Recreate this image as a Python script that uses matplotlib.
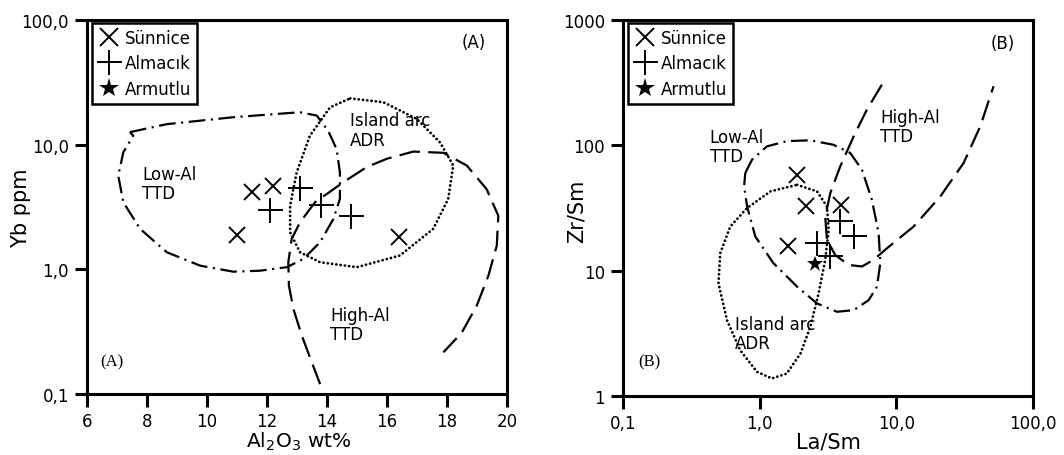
"""plot.py

Yb vs Al2O3 and Zr/Sm vs La/Sm discrimination diagrams with
Low-Al TTD, High-Al TTD and island arc ADR fields.
"""

import matplotlib
matplotlib.use("Agg")
import matplotlib.pyplot as plt
from matplotlib.lines import Line2D

plt.rcParams["font.family"] = ["DejaVu Sans"]
plt.rcParams["lines.scale_dashes"] = False

# ---------------------------------------------------------------------------
# Data
# ---------------------------------------------------------------------------

# Panel A: Al2O3 (wt%) vs Yb (ppm)
A_SUN_X = [11.5, 12.2, 11.0, 16.4]
A_SUN_Y = [4.2, 4.7, 1.9, 1.8]
A_ALM_X = [13.1, 12.1, 13.8, 14.8]
A_ALM_Y = [4.5, 3.0, 3.3, 2.7]

A_LOWAL_X = [7.43, 8.66, 10.88, 13.1, 13.66, 14.04, 14.32, 14.43, 14.43, 14.21,
             13.77, 13.21, 12.66, 11.77, 10.88, 9.77, 8.66, 7.77, 7.21, 7.04,
             7.21, 7.54]
A_LOWAL_Y = [12.6, 14.6, 16.6, 18.2, 17.1, 12.9, 9.2, 6.0, 3.67, 2.53,
             1.65, 1.21, 1.04, 0.975, 0.957, 1.07, 1.37, 2.11, 3.45, 5.64,
             8.69, 11.8]

A_ARC_X = [14.77, 15.88, 16.99, 17.77, 18.21, 18.04, 17.54, 16.43, 14.99, 13.77,
           13.1, 12.77, 12.77, 12.99, 13.43, 14.1]
A_ARC_Y = [23.5, 21.9, 16.1, 10.4, 6.8, 3.67, 2.11, 1.29, 1.04, 1.14,
           1.37, 1.98, 3.24, 6.0, 11.8, 19.9]

A_HIGHAL_X = [13.77, 13.49, 13.16, 12.88, 12.73, 12.71, 12.82, 13.1, 13.6, 14.6,
              15.32, 15.99, 16.88, 17.88, 18.66, 19.32, 19.71, 19.66, 19.38,
              18.99, 18.49, 17.88]
A_HIGHAL_Y = [0.12, 0.18, 0.294, 0.48, 0.74, 1.14, 1.75, 2.38, 3.45, 5.1,
              6.6, 7.7, 8.8, 8.6, 6.8, 4.4, 2.69, 1.55, 0.89,
              0.51, 0.31, 0.216]

# Panel B: La/Sm vs Zr/Sm
B_SUN_X = [1.88, 2.18, 1.60, 3.94]
B_SUN_Y = [58.0, 32.6, 15.6, 33.2]
B_ALM_X = [3.9, 4.9, 2.65, 3.25]
B_ALM_Y = [25.0, 18.8, 16.6, 13.2]
B_ARM_X = [2.53]
B_ARM_Y = [11.3]

B_LOWAL_X = [0.785, 0.88, 1.13, 1.58, 2.35, 3.47, 4.6, 5.61, 6.63, 7.43,
             7.64, 7.22, 6.28, 4.88, 3.68, 2.63, 1.88, 1.26, 0.93, 0.81, 0.77]
B_LOWAL_Y = [60.1, 76.8, 98.0, 108.0, 109.6, 101.0, 86.9, 63.8, 36.7, 19.9,
             11.5, 7.45, 5.82, 4.84, 4.7, 5.48, 7.45, 11.5, 18.7, 32.5, 47.0]

B_ARC_X = [1.88, 2.63, 3.11, 3.2, 3.02, 2.7, 2.35, 1.99, 1.58, 1.23,
           0.955, 0.72, 0.577, 0.5, 0.515, 0.61, 0.807, 1.2]
B_ARC_Y = [48.4, 42.9, 32.5, 21.1, 12.2, 6.59, 3.56, 2.18, 1.51, 1.38,
           1.56, 2.32, 4.03, 7.92, 13.8, 22.5, 31.5, 42.9]

B_HIGHAL_X = [7.85, 6.1, 4.88, 3.89, 3.29, 3.02, 3.11, 3.58, 4.48, 5.61,
              6.82, 8.55, 13.4, 21.0, 31.1, 41.2, 51.5]
B_HIGHAL_Y = [305, 193, 118, 67.9, 41.6, 27.0, 17.6, 13.3, 11.1, 10.8,
              12.2, 15.1, 22.5, 39.1, 72.3, 142, 296]

A_XTICKS = [6, 8, 10, 12, 14, 16, 18, 20]
A_YTICKS = [0.1, 1, 10, 100]
A_YTICKLABELS = ["0,1", "1,0", "10,0", "100,0"]
B_XTICKS = [0.1, 1, 10, 100]
B_XTICKLABELS = ["0,1", "1,0", "10,0", "100,0"]
B_YTICKS = [1, 10, 100, 1000]
B_YTICKLABELS = ["1", "10", "100", "1000"]

# ---------------------------------------------------------------------------
# Styles
# ---------------------------------------------------------------------------
LW = 1.6
DASHDOT = (0, (12, 4, 1.5, 4))
LONGDASH = (0, (15, 6))
DOTTED = (0, (0.1, 3.0))


def close(xs, ys):
    return list(xs) + [xs[0]], list(ys) + [ys[0]]


def style_axes(ax):
    for sp in ax.spines.values():
        sp.set_linewidth(2.2)
    ax.tick_params(which="major", direction="out", length=9, width=2.2,
                   labelsize=12, pad=4)
    ax.tick_params(which="minor", length=0)


def add_legend(ax):
    handles = [
        Line2D([], [], ls="none", marker="x", ms=13, mew=1.4, color="black"),
        Line2D([], [], ls="none", marker="+", ms=18, mew=1.4, color="black"),
        Line2D([], [], ls="none", marker="*", ms=15, mew=0, color="black"),
    ]
    leg = ax.legend(handles, ["Sünnice", "Almacık", "Armutlu"],
                    loc="upper left", bbox_to_anchor=(0.012, 0.992),
                    borderaxespad=0, fontsize=12, handlelength=1.3,
                    handletextpad=0.3, labelspacing=0.45, borderpad=0.35,
                    fancybox=False, framealpha=1)
    leg.get_frame().set_edgecolor("black")
    leg.get_frame().set_linewidth(1.8)


fig = plt.figure(figsize=(10.64, 4.56), dpi=100)
axA = fig.add_axes([0.0818, 0.1338, 0.3947, 0.8202])
axB = fig.add_axes([0.5855, 0.1294, 0.3853, 0.8246])

# ---------------- Panel A ----------------
ax = axA
ax.set_yscale("log")
ax.set_xlim(6, 20)
ax.set_ylim(0.1, 100)
x, y = close(A_LOWAL_X, A_LOWAL_Y)
ax.plot(x, y, color="black", lw=LW, ls=DASHDOT)
x, y = close(A_ARC_X, A_ARC_Y)
ax.plot(x, y, color="black", lw=2.0, ls=DOTTED, dash_capstyle="round")
ax.plot(A_HIGHAL_X, A_HIGHAL_Y, color="black", lw=LW, ls=LONGDASH)
ax.plot(A_SUN_X, A_SUN_Y, ls="none", marker="x", ms=12, mew=1.4, color="black")
ax.plot(A_ALM_X, A_ALM_Y, ls="none", marker="+", ms=18, mew=1.4, color="black")
ax.text(7.83, 4.9, "Low-Al\nTTD", fontsize=12, va="center", ha="left",
        linespacing=1.1)
ax.text(14.77, 13.1, "Island arc\nADR", fontsize=12, va="center", ha="left",
        linespacing=1.1)
ax.text(14.1, 0.36, "High-Al\nTTD", fontsize=12, va="center", ha="left",
        linespacing=1.1)
ax.text(0.92, 0.941, "(A)", transform=ax.transAxes, fontsize=12,
        ha="center", va="center")
ax.text(0.06, 0.088, "(A)", transform=ax.transAxes, fontsize=12,
        ha="center", va="center", family="Liberation Serif")
ax.set_xticks(A_XTICKS)
ax.set_xticklabels([str(t) for t in A_XTICKS])
ax.set_yticks(A_YTICKS)
ax.set_yticklabels(A_YTICKLABELS)
ax.set_xlabel(r"Al$_2$O$_3$ wt%", fontsize=14.5)
ax.set_ylabel("Yb ppm", fontsize=15)
ax.xaxis.set_label_coords(0.505, -0.155)
ax.yaxis.set_label_coords(-0.157, 0.5)
ax.xaxis.label.set_va("bottom")
ax.yaxis.label.set_va("center")
style_axes(ax)
add_legend(ax)

# ---------------- Panel B ----------------
ax = axB
ax.set_xscale("log")
ax.set_yscale("log")
ax.set_xlim(0.1, 100)
ax.set_ylim(1, 1000)
x, y = close(B_LOWAL_X, B_LOWAL_Y)
ax.plot(x, y, color="black", lw=LW, ls=DASHDOT)
x, y = close(B_ARC_X, B_ARC_Y)
ax.plot(x, y, color="black", lw=2.0, ls=DOTTED, dash_capstyle="round")
ax.plot(B_HIGHAL_X, B_HIGHAL_Y, color="black", lw=LW, ls=LONGDASH)
ax.plot(B_SUN_X, B_SUN_Y, ls="none", marker="x", ms=12, mew=1.4, color="black")
ax.plot(B_ALM_X, B_ALM_Y, ls="none", marker="+", ms=18, mew=1.4, color="black")
ax.plot(B_ARM_X, B_ARM_Y, ls="none", marker="*", ms=12, mew=0, color="black")
ax.text(0.43, 98, "Low-Al\nTTD", fontsize=12, va="center", ha="left",
        linespacing=1.1)
ax.text(7.64, 142, "High-Al\nTTD", fontsize=12, va="center", ha="left",
        linespacing=1.1)
ax.text(0.664, 3.15, "Island arc\nADR", fontsize=12, va="center", ha="left",
        linespacing=1.1)
ax.text(0.927, 0.94, "(B)", transform=ax.transAxes, fontsize=12,
        ha="center", va="center")
ax.text(0.065, 0.091, "(B)", transform=ax.transAxes, fontsize=12,
        ha="center", va="center", family="Liberation Serif")
ax.set_xticks(B_XTICKS)
ax.set_xticklabels(B_XTICKLABELS)
ax.set_yticks(B_YTICKS)
ax.set_yticklabels(B_YTICKLABELS)
ax.set_xlabel("La/Sm", fontsize=15)
ax.set_ylabel("Zr/Sm", fontsize=15)
ax.xaxis.set_label_coords(0.5, -0.122)
ax.yaxis.set_label_coords(-0.112, 0.495)
ax.xaxis.label.set_va("center")
ax.yaxis.label.set_va("center")
style_axes(ax)
add_legend(ax)

fig.savefig("out.png", dpi=100)
